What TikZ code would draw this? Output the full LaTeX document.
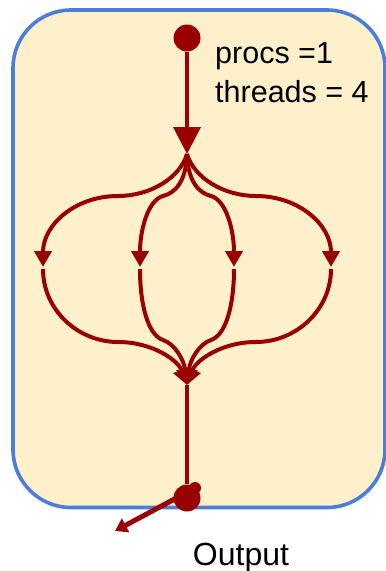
\documentclass[tikz,border=0pt]{standalone}
\usepackage{fontspec}
\setmainfont{Liberation Sans}
\usetikzlibrary{arrows.meta}
\definecolor{dred}{HTML}{990000}
\definecolor{bfill}{HTML}{FFF0CC}
\definecolor{bblue}{HTML}{4A7ED8}
\begin{document}
\begin{tikzpicture}[x=1pt,y=-1pt,
  flow/.style={draw=dred, line width=4pt},
  smalltip/.style={-{Triangle[length=16pt,width=17pt]}},
  dot/.style={circle, fill=dred, inner sep=0pt, minimum size=27pt},
  lbl/.style={font=\fontsize{30.5}{39}\selectfont, inner sep=0pt, anchor=base west}]
\useasboundingbox (0,0) rectangle (386,571);
\draw[bblue, line width=3.6pt, fill=bfill, rounded corners=58pt] (13,10) rectangle (385,507.5);
% nodes
\node[dot] (src) at (187,38) {};
\coordinate (fork) at (187,154);
\node[lbl] (t1) at (215,63) {procs =1};
\node[lbl] (t2) at (215,102) {threads = 4};
\coordinate (a1) at (43,267);
\coordinate (a2) at (140,267);
\coordinate (a3) at (234,267);
\coordinate (a4) at (331,267);
\coordinate (b1) at (43,269);
\coordinate (b2) at (140,269);
\coordinate (b3) at (234,269);
\coordinate (b4) at (331,269);
\coordinate (merge) at (187,385);
\node[dot] (sink) at (187,498) {};
\node[circle, fill=dred, inner sep=0pt, minimum size=12pt] (bump) at (195,488) {};
\coordinate (outend) at (115,531);
\node[font=\fontsize{32}{38}\selectfont, inner sep=0pt, anchor=base] (out) at (241,565) {Output};
% connectors
\draw[flow, -{Triangle[length=27pt,width=27pt]}] (src) -- (fork);
\draw[flow, smalltip] (fork) .. controls (180,178) and (150,196) .. (118,196) .. controls (75,196) and (43,225) .. (a1);
\draw[flow, smalltip] (fork) .. controls (186,182) and (175,193) .. (163,196) .. controls (148,200) and (140,230) .. (a2);
\draw[flow, smalltip] (fork) .. controls (188,182) and (199,193) .. (211,196) .. controls (226,200) and (234,230) .. (a3);
\draw[flow, smalltip] (fork) .. controls (194,178) and (224,196) .. (256,196) .. controls (299,196) and (331,225) .. (a4);
\draw[flow, smalltip] (b1) .. controls (43,310) and (78,342) .. (118,342) .. controls (152,342) and (178,360) .. (merge);
\draw[flow, smalltip] (b2) .. controls (140,305) and (148,335) .. (163,340) .. controls (175,344) and (184,360) .. (merge);
\draw[flow, smalltip] (b3) .. controls (234,305) and (226,335) .. (211,340) .. controls (199,344) and (190,360) .. (merge);
\draw[flow, smalltip] (b4) .. controls (331,310) and (296,342) .. (256,342) .. controls (222,342) and (196,360) .. (merge);
\draw[flow] (merge) -- (sink);
\draw[draw=dred, line width=5pt, -{Triangle[length=12pt,width=15pt]}] (bump.center) -- (outend);
\end{tikzpicture}
\end{document}
